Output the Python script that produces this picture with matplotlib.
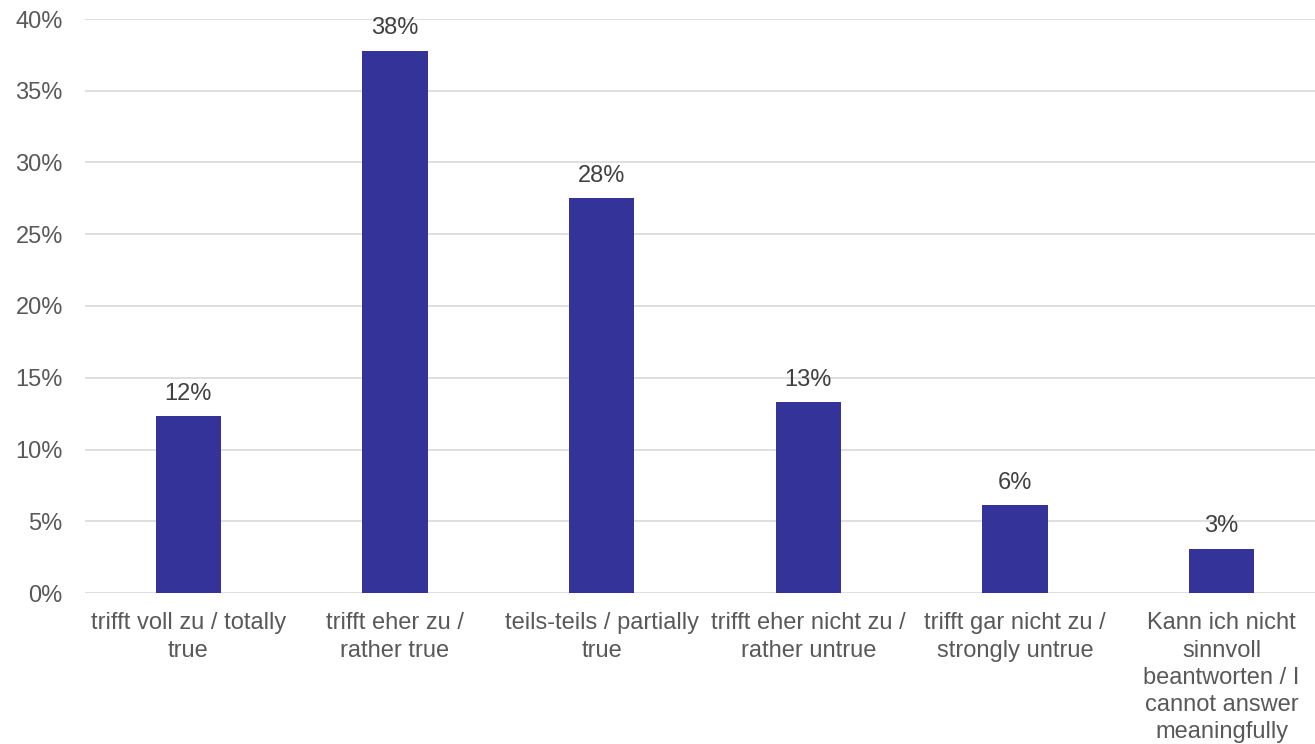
import matplotlib.pyplot as plt
from matplotlib.ticker import PercentFormatter

categories = [
    "trifft voll zu / totally\ntrue",
    "trifft eher zu /\nrather true",
    "teils-teils / partially\ntrue",
    "trifft eher nicht zu /\nrather untrue",
    "trifft gar nicht zu /\nstrongly untrue",
    "Kann ich nicht\nsinnvoll\nbeantworten / I\ncannot answer\nmeaningfully",
]
values = [12.3, 37.8, 27.5, 13.3, 6.1, 3.1]
value_labels = ["12%", "38%", "28%", "13%", "6%", "3%"]

plt.rcParams['font.family'] = ['Liberation Sans', 'DejaVu Sans']
text_color = '#595959'

fig = plt.figure(figsize=(13.15, 7.44), dpi=100)
ax = fig.add_axes([85 / 1315, 1 - 593 / 744, 1240 / 1315, (593 - 19) / 744])

x = range(len(categories))
bars = ax.bar(x, values, width=0.315, color='#333399', zorder=3)

for b, lab in zip(bars, value_labels):
    ax.annotate(lab, (b.get_x() + b.get_width() / 2, b.get_height()),
                xytext=(0, 8), textcoords='offset points',
                ha='center', va='bottom', fontsize=17, color='#404040')

ax.set_ylim(0, 40)
ax.set_xlim(-0.5, 5.5)
ax.set_yticks(range(0, 41, 5))
ax.yaxis.set_major_formatter(PercentFormatter(decimals=0))
ax.set_xticks(list(x))
ax.set_xticklabels(categories, fontsize=17, color=text_color, linespacing=1.3)
ax.tick_params(axis='y', labelsize=17, labelcolor=text_color, length=0, pad=16)
ax.tick_params(axis='x', length=0, pad=14)
ax.grid(axis='y', color='#d9d9d9', linewidth=1.2, zorder=0)
for s in ax.spines.values():
    s.set_visible(False)

fig.savefig('out.png', dpi=100)
